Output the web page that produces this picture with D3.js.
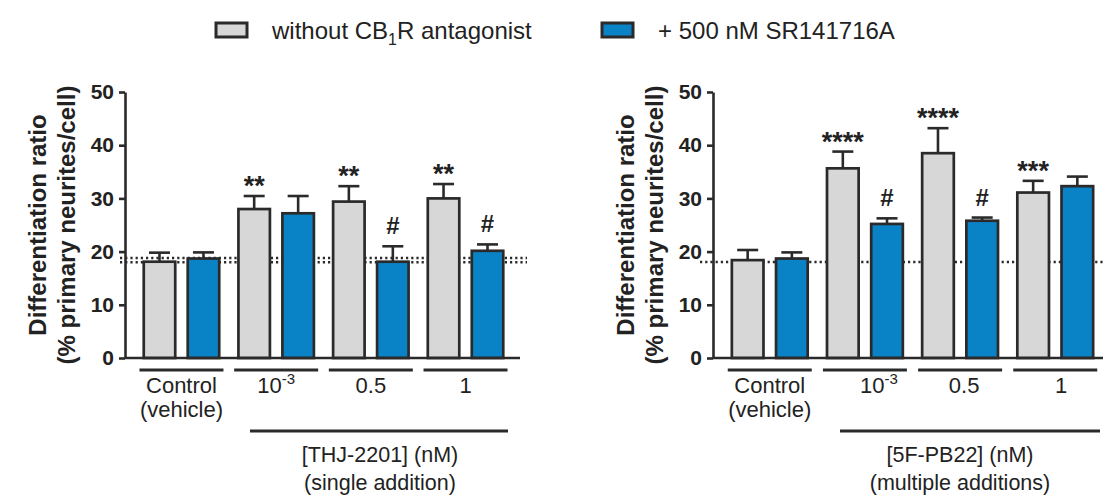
<!DOCTYPE html>
<html><head><meta charset="utf-8">
<script src="https://cdn.jsdelivr.net/npm/d3@7"></script>
<style>body{margin:0;background:#fff}svg{display:block}text{font-family:"Liberation Sans",Arial,sans-serif;fill:#222}</style>
</head><body><svg id="c" width="1103" height="497"></svg>
<script>
const groups = ["Control", "1e-3", "0.5", "1"];
const seriesKeys = ["without", "with"];
const yTicks = [0, 10, 20, 30, 40, 50];

// Left panel: THJ-2201 single addition
const leftGray = [18.1, 28.0, 29.4, 30.0];
const leftGraySem = [1.7, 2.45, 2.9, 2.7];
const leftBlue = [18.7, 27.2, 18.1, 20.15];
const leftBlueSem = [1.15, 3.25, 2.9, 1.2];
const leftGrayMarks = ["", "**", "**", "**"];
const leftBlueMarks = ["", "", "#", "#"];
const leftRefLines = [18.8, 18.0];

// Right panel: 5F-PB22 multiple additions
const rightGray = [18.4, 35.65, 38.5, 31.1];
const rightGraySem = [1.9, 3.15, 4.7, 2.2];
const rightBlue = [18.7, 25.2, 25.8, 32.3];
const rightBlueSem = [1.15, 1.05, 0.6, 1.8];
const rightGrayMarks = ["", "****", "****", "***"];
const rightBlueMarks = ["", "#", "#", ""];
const rightRefLines = [18.05];

const catLabels = ["Control", "10", "0.5", "1"];
const yTitle1 = "Differentiation ratio";
const yTitle2 = "(% primary neurites/cell)";

const GRAY = "#d7d7d7", BLUE = "#0a83c6", INK = "#2a2a2a";
const svg = d3.select("#c");

function panel(o) {
  const g = svg.append("g");
  const y = d3.scaleLinear().domain([0, 50]).range([358, 92]);
  const x0 = d3.scaleBand().domain(groups).range([o.ax, o.ax + o.w]).paddingInner(0.203).paddingOuter(0.198);
  const x1 = d3.scaleBand().domain(seriesKeys).range([0, x0.bandwidth()]).paddingInner(0.284);

  // dotted reference lines
  o.ref.forEach(v => {
    g.append("line").attr("x1", o.refStart).attr("x2", o.refEnd)
      .attr("y1", y(v)).attr("y2", y(v))
      .attr("stroke", INK).attr("stroke-width", 2.6).attr("stroke-dasharray", "2.2,3");
  });

  const data = groups.map((k, i) => ({k, i,
    vals: [{s: "without", v: o.gray[i], e: o.graySem[i], m: o.grayMarks[i], fill: GRAY},
           {s: "with", v: o.blue[i], e: o.blueSem[i], m: o.blueMarks[i], fill: BLUE}]}));

  const gg = g.selectAll("g.grp").data(data).join("g").attr("transform", d => `translate(${x0(d.k)},0)`);
  const bars = gg.selectAll("g.bar").data(d => d.vals).join("g");
  // error bars (upper only)
  bars.append("line").attr("x1", d => x1(d.s) + x1.bandwidth()/2).attr("x2", d => x1(d.s) + x1.bandwidth()/2)
    .attr("y1", d => y(d.v)).attr("y2", d => y(d.v + d.e)).attr("stroke", INK).attr("stroke-width", 2.6);
  bars.append("line").attr("x1", d => x1(d.s) + x1.bandwidth()/2 - 10.5).attr("x2", d => x1(d.s) + x1.bandwidth()/2 + 10.5)
    .attr("y1", d => y(d.v + d.e)).attr("y2", d => y(d.v + d.e)).attr("stroke", INK).attr("stroke-width", 2.6);
  bars.append("rect").attr("x", d => x1(d.s)).attr("width", x1.bandwidth())
    .attr("y", d => y(d.v)).attr("height", d => y(0) - y(d.v))
    .attr("fill", d => d.fill).attr("stroke", INK).attr("stroke-width", 2.7);
  bars.filter(d => d.m).append("text")
    .attr("x", d => x1(d.s) + x1.bandwidth()/2)
    .attr("y", d => y(d.v + d.e) - (d.m === "#" ? 12 : 1))
    .attr("text-anchor", "middle").attr("font-weight", "bold")
    .attr("font-size", d => d.m === "#" ? 24 : 27).text(d => d.m);

  // y axis
  const ax = g.append("g").attr("transform", `translate(${o.ax},0)`)
    .call(d3.axisLeft(y).tickValues(yTicks).tickSize(6).tickSizeOuter(0).tickPadding(5));
  ax.select(".domain").attr("stroke", INK).attr("stroke-width", 2.6);
  ax.selectAll(".tick line").attr("stroke", INK).attr("stroke-width", 2.6);
  ax.selectAll(".tick text").attr("font-size", 21).attr("font-weight", "bold")
    .attr("font-family", "Liberation Sans, Arial, sans-serif").attr("fill", INK);
  // baseline
  g.append("line").attr("x1", o.ax).attr("x2", o.baseEnd).attr("y1", y(0)).attr("y2", y(0))
    .attr("stroke", INK).attr("stroke-width", 2.6);

  // group underlines
  g.selectAll("line.ul").data(groups).join("line")
    .attr("x1", d => x0(d) + x0.bandwidth()/2 - 42).attr("x2", d => x0(d) + x0.bandwidth()/2 + 42)
    .attr("y1", 370).attr("y2", 370).attr("stroke", INK).attr("stroke-width", 3);

  // category labels
  groups.forEach((k, i) => {
    const cx = x0(k) + x0.bandwidth()/2 + o.labShift[i];
    const t = g.append("text").attr("x", cx).attr("y", 393).attr("text-anchor", "middle").attr("font-size", 22);
    if (i === 1) {
      t.append("tspan").text(catLabels[i]);
      t.append("tspan").attr("dy", -9).attr("font-size", 15).text("-3");
    } else t.text(catLabels[i]);
  });
  g.append("text").attr("x", x0("Control") + x0.bandwidth()/2).attr("y", 417)
    .attr("text-anchor", "middle").attr("font-size", 22).text("(vehicle)");
  g.append("line").attr("x1", o.bigL).attr("x2", o.bigR).attr("y1", 431).attr("y2", 431)
    .attr("stroke", INK).attr("stroke-width", 3);
  g.append("text").attr("x", o.subX).attr("y", 462).attr("text-anchor", "middle").attr("font-size", 21.5).text(o.sub1);
  g.append("text").attr("x", o.subX).attr("y", 490).attr("text-anchor", "middle").attr("font-size", 21.5).text(o.sub2);

  // y title
  const yt = g.append("text").attr("transform", `translate(${o.ax - 79},${y(25)}) rotate(-90)`)
    .attr("text-anchor", "middle").attr("font-weight", "bold").attr("font-size", 24);
  yt.append("tspan").attr("x", 0).attr("dy", 0).text(yTitle1);
  yt.append("tspan").attr("x", 0).attr("dy", 29).text(yTitle2);
}

panel({ax: 125, w: 397, gray: leftGray, graySem: leftGraySem, blue: leftBlue, blueSem: leftBlueSem,
  grayMarks: leftGrayMarks, blueMarks: leftBlueMarks, ref: leftRefLines, refStart: 120, refEnd: 527,
  baseEnd: 520, labShift: [0, 0, 0, 0], bigL: 250, bigR: 508, subX: 380,
  sub1: "[THJ-2201] (nM)", sub2: "(single addition)"});
panel({ax: 713, w: 399, gray: rightGray, graySem: rightGraySem, blue: rightBlue, blueSem: rightBlueSem,
  grayMarks: rightGrayMarks, blueMarks: rightBlueMarks, ref: rightRefLines, refStart: 700, refEnd: 1103,
  baseEnd: 1103, labShift: [0, 14, 4, 6], bigL: 840, bigR: 1100, subX: 960,
  sub1: "[5F-PB22] (nM)", sub2: "(multiple additions)"});

// legend
const legend = [{label: "without CB", sub: "1", rest: "R antagonist", fill: GRAY, x: 216},
                {label: "+ 500 nM SR141716A", fill: BLUE, x: 602}];
legend.forEach(l => {
  svg.append("rect").attr("x", l.x).attr("y", 23).attr("width", 31).attr("height", 14)
    .attr("fill", l.fill).attr("stroke", INK).attr("stroke-width", 3);
  const t = svg.append("text").attr("x", l.x + 56).attr("y", 39).attr("font-size", 24);
  t.append("tspan").text(l.label);
  if (l.sub) {
    t.append("tspan").attr("dy", 6).attr("font-size", 16).text(l.sub);
    t.append("tspan").attr("dy", -6).text(l.rest);
  }
});
</script></body></html>
